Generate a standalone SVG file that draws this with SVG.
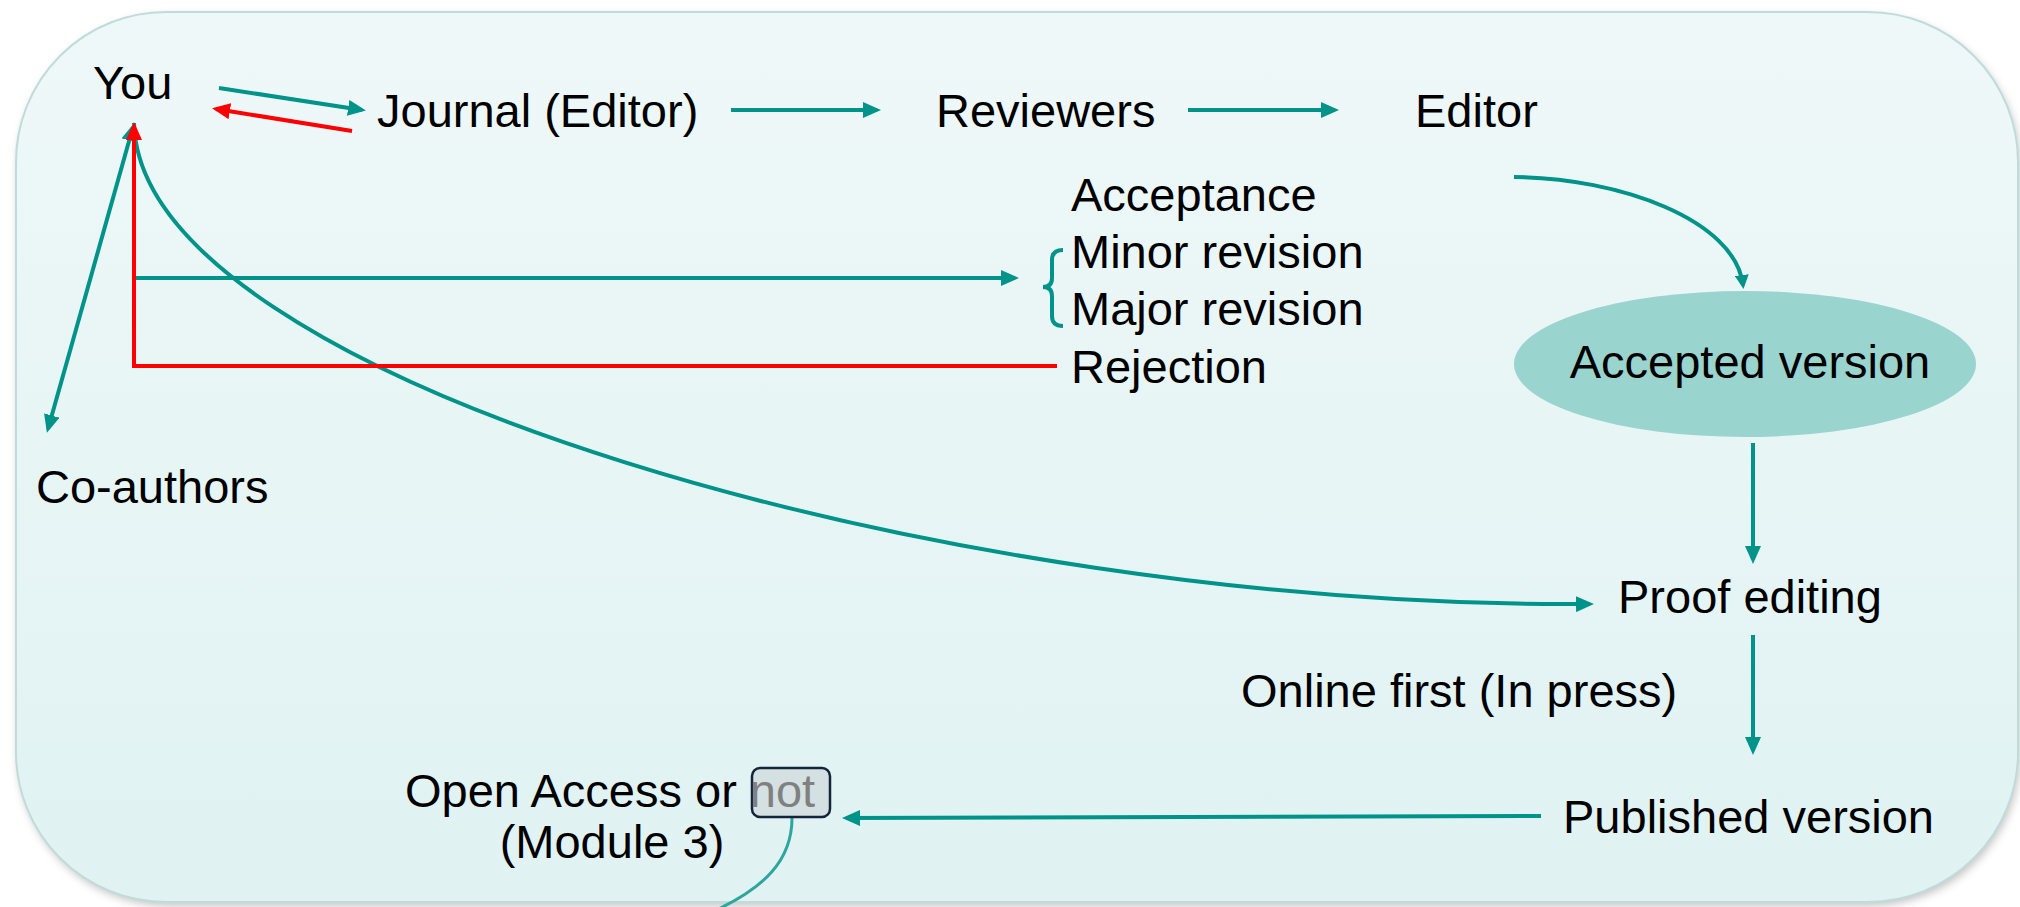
<svg xmlns="http://www.w3.org/2000/svg" width="2020" height="907" viewBox="0 0 2020 907">
<defs>
<linearGradient id="bg" x1="0" y1="0" x2="0" y2="1">
<stop offset="0" stop-color="#EFF8F8"/>
<stop offset="1" stop-color="#E0F2F2"/>
</linearGradient>
<filter id="sh" x="-5%" y="-5%" width="110%" height="110%">
<feGaussianBlur stdDeviation="4"/>
</filter>
<marker id="at" markerUnits="userSpaceOnUse" markerWidth="18" markerHeight="16" refX="14" refY="8" orient="auto-start-reverse" viewBox="0 0 18 16">
<path d="M0,0 L18,8 L0,16 z" fill="#009389"/>
</marker>
<marker id="ar" markerUnits="userSpaceOnUse" markerWidth="18" markerHeight="16" refX="14" refY="8" orient="auto" viewBox="0 0 18 16">
<path d="M0,0 L18,8 L0,16 z" fill="#FF0000"/>
</marker>
<marker id="as" markerUnits="userSpaceOnUse" markerWidth="14" markerHeight="14" refX="10" refY="7" orient="auto" viewBox="0 0 14 14">
<path d="M0,0 L14,7 L0,14 z" fill="#009389"/>
</marker>
</defs>
<style>
text{font-family:"Liberation Sans",Arial,sans-serif;font-size:47px;fill:#000}
.t{fill:none;stroke:#009389;stroke-width:4}
.r{fill:none;stroke:#FF0000;stroke-width:4}
</style>
<rect width="2020" height="907" fill="#FFFFFF"/>
<g id="frame">
<rect x="18" y="16" width="2002" height="890" rx="150" ry="150" fill="#9E9E9E" opacity="0.6" filter="url(#sh)"/>
<rect x="16" y="12" width="2002" height="890" rx="150" ry="150" fill="url(#bg)" stroke="#BFDCDA" stroke-width="2"/>
</g>
<g id="connectors">
<line class="t" x1="219" y1="88" x2="362" y2="110" marker-end="url(#at)"/>
<line class="r" x1="352" y1="131" x2="216" y2="109" marker-end="url(#ar)"/>
<line class="t" x1="731" y1="110" x2="877" y2="110" marker-end="url(#at)"/>
<line class="t" x1="1188" y1="110" x2="1335" y2="110" marker-end="url(#at)"/>
<path class="t" d="M1514,177 C1620,178 1735,220 1743,285" stroke-width="3" marker-end="url(#as)"/>
<line class="t" x1="1753" y1="443" x2="1753" y2="560" marker-end="url(#at)"/>
<line class="t" x1="1753" y1="635" x2="1753" y2="751" marker-end="url(#at)"/>
<line class="t" x1="1541" y1="816" x2="846" y2="818" marker-end="url(#at)"/>
<line class="t" x1="136" y1="278" x2="1015" y2="278" marker-end="url(#at)"/>
<path class="t" d="M134,123 C140,380 950,610 1590,604" marker-end="url(#at)"/>
<line class="t" x1="133" y1="127" x2="48" y2="429" marker-start="url(#at)" marker-end="url(#at)"/>
<path class="r" d="M1057,366 L134,366 L134,126" marker-end="url(#ar)"/>
<path class="t" d="M1063,250 Q1052,250 1052,260 L1052,278 Q1052,287 1043,287 Q1052,287 1052,296 L1052,316 Q1052,326 1063,326" stroke-width="4"/>
<path d="M792,818 C792,860 765,888 712,912" fill="none" stroke="#2EA69D" stroke-width="3"/>
</g>
<g id="you"><text x="93" y="99">You</text></g>
<g id="journal"><text x="377" y="127">Journal (Editor)</text></g>
<g id="reviewers"><text x="936" y="127">Reviewers</text></g>
<g id="editor"><text x="1415" y="127">Editor</text></g>
<g id="decisions">
<text x="1071" y="211">Acceptance</text>
<text x="1071" y="268">Minor revision</text>
<text x="1071" y="325">Major revision</text>
<text x="1071" y="383">Rejection</text>
</g>
<g id="accepted">
<ellipse cx="1745" cy="364" rx="231" ry="73" fill="#99D4CF"/>
<text x="1750" y="378" text-anchor="middle">Accepted version</text>
</g>
<g id="coauthors"><text x="36" y="503">Co-authors</text></g>
<g id="proof"><text x="1618" y="613">Proof editing</text></g>
<g id="online"><text x="1241" y="707">Online first (In press)</text></g>
<g id="published"><text x="1563" y="833">Published version</text></g>
<g id="openaccess">
<rect x="752" y="768" width="78" height="49" rx="8" ry="8" fill="#D4E0E2" stroke="#13253A" stroke-width="2.5"/>
<text x="405" y="807">Open Access or <tspan fill="#808080">not</tspan></text>
<text x="612" y="858" text-anchor="middle">(Module 3)</text>
</g>
</svg>
